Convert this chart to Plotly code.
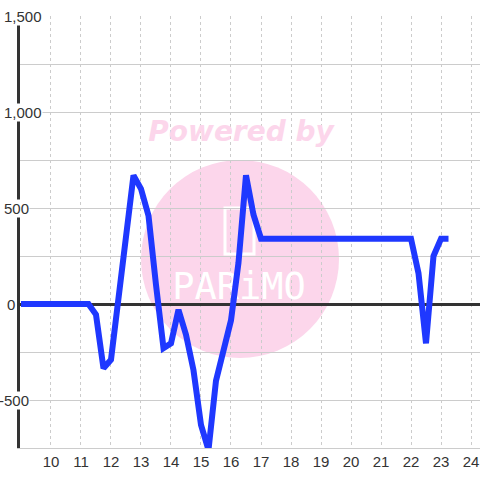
import plotly.graph_objects as go

# ---- data ----
hours = [9.0, 11.25, 11.5, 11.75, 12.0, 12.25, 12.5, 12.75, 13.0, 13.25, 13.5,
         13.75, 14.0, 14.25, 14.5, 14.75, 15.0, 15.25, 15.5, 15.75, 16.0,
         16.25, 16.5, 16.75, 17.0, 22.0, 22.25, 22.5, 22.75, 23.0, 23.25]
values = [0, 0, -55, -335, -290, 30, 360, 670, 600, 460, 100,
          -230, -205, -30, -160, -345, -630, -760, -400, -240, -85,
          215, 670, 465, 340, 340, 160, -205, 250, 340, 340]
x_ticks = list(range(10, 25))
y_label_vals = [1500, 1000, 500, 0, -500]
y_label_text = ["1,500", "1,000", "500", "0", "-500"]
y_label_right_px = [43, 43, 30, 16, 30]

X_RANGE = [8.967, 24.3]
Y_RANGE = [-750, 1500]
L, R, T, B = 20, 0, 16, 32
W = H = 480
PW = W - L - R


def px2x(p):
    return X_RANGE[0] + (p - L) * (X_RANGE[1] - X_RANGE[0]) / PW


def py2y(p):
    ph = H - T - B
    return Y_RANGE[1] - (p - T) * (Y_RANGE[1] - Y_RANGE[0]) / ph


PINK = "rgb(252,214,235)"

fig = go.Figure()

# watermark texts (drawn below the data line)
fig.add_trace(go.Scatter(
    x=[px2x(241)], y=[py2y(134)], mode="text", text=["<b><i>Powered by</i></b>"],
    textfont=dict(family="DejaVu Sans", size=28, color=PINK),
    hoverinfo="skip", showlegend=False, cliponaxis=False))
fig.add_trace(go.Scatter(
    x=[px2x(239)], y=[py2y(290)], mode="text", text=["PARiMO"],
    textfont=dict(family="DejaVu Sans Mono", size=37, color="white"),
    hoverinfo="skip", showlegend=False))

# data line
fig.add_trace(go.Scatter(
    x=hours, y=values, mode="lines",
    line=dict(color="#1f38ff", width=6),
    hoverinfo="skip", showlegend=False))

# watermark circle + logo box
fig.add_shape(type="circle", xref="x", yref="y",
              x0=px2x(141), x1=px2x(339), y0=py2y(358), y1=py2y(160),
              fillcolor=PINK, line=dict(width=0), layer="below")
fig.add_shape(type="rect", xref="x", yref="y",
              x0=px2x(225), x1=px2x(254), y0=py2y(254), y1=py2y(208),
              line=dict(color="white", width=3), layer="below")

# y labels with white background covering axis line
for v, t, rp in zip(y_label_vals, y_label_text, y_label_right_px):
    fig.add_annotation(
        x=(rp - L) / PW, xref="paper", y=v, yref="y", text=t,
        showarrow=False, xanchor="right", yanchor="middle",
        font=dict(family="Liberation Sans, Arial", size=15, color="#333"),
        bgcolor="white", borderpad=0)

fig.update_layout(
    width=W, height=H,
    margin=dict(l=L, r=R, t=T, b=B, autoexpand=False),
    paper_bgcolor="white", plot_bgcolor="white",
    xaxis=dict(range=X_RANGE, tickvals=x_ticks, ticktext=[str(v) for v in x_ticks],
               showgrid=True, gridcolor="#cccccc", gridwidth=1, griddash="3px,3px",
               zeroline=False, showline=True, linecolor="#cccccc", linewidth=1,
               tickfont=dict(family="Liberation Sans, Arial", size=15, color="#333"),
               ticks="", fixedrange=True, automargin=False),
    yaxis=dict(range=Y_RANGE, dtick=250, tick0=0, showticklabels=False,
               showgrid=True, gridcolor="#cccccc", gridwidth=1,
               zeroline=True, zerolinecolor="#333333", zerolinewidth=3,
               showline=True, linecolor="#333333", linewidth=3, ticks="",
               fixedrange=True, automargin=False),
    font=dict(family="Liberation Sans, Arial"),
)

fig.write_html("out.html", config={"displayModeBar": False},
               post_script="document.body.style.margin='0';document.body.style.overflow='hidden';")
